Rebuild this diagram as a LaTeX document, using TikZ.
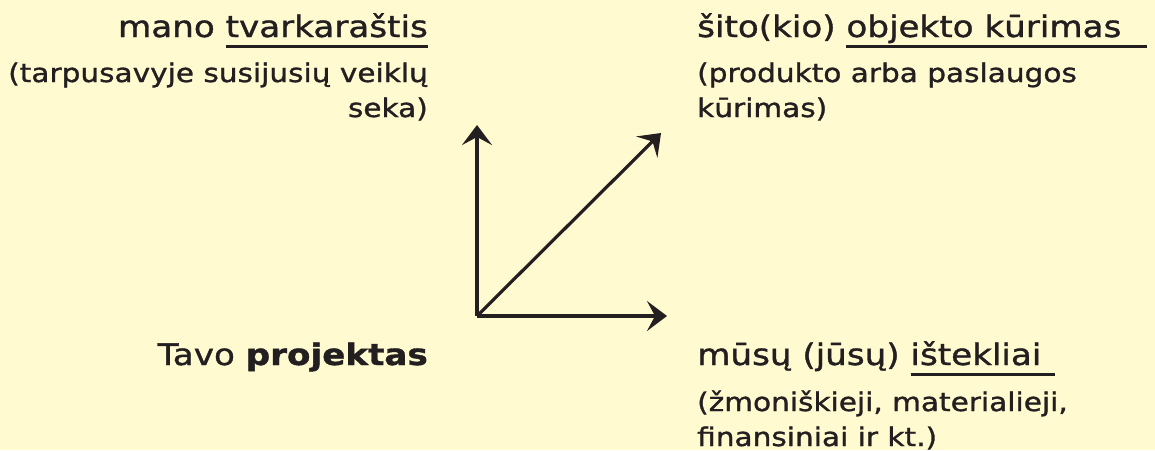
\documentclass[tikz,border=0pt]{standalone}
\usepackage{fontspec}
\setmainfont[FakeStretch=1.15,FakeBold=1.2]{DejaVu Sans}
\usetikzlibrary{arrows.meta}
\definecolor{bg}{RGB}{255,250,208}
\definecolor{ink}{RGB}{35,31,32}
\newcommand\myul[2][0pt]{\setbox0\hbox{#2\kern#1}\rlap{\color{ink}\rule[-10.5pt]{\wd0}{3pt}}\box0}
\tikzset{
  head/.style={font=\fontsize{29.7pt}{36pt}\selectfont, text=ink, inner sep=0pt},
  sub/.style={font=\fontsize{25.7pt}{31pt}\selectfont, text=ink, inner sep=0pt},
  arr/.style={draw=ink, line width=3.2pt, -{Stealth[length=20pt,width=30pt,inset=8pt]}}
}
\begin{document}
\begin{tikzpicture}[x=1pt,y=-1pt]
\fill[bg] (0,0) rectangle (1155,450);
\useasboundingbox (0,0) rectangle (1155,450);
% top left
\node[head, anchor=base east] (tl1) at (428,37) {mano \myul{tvarkaraštis}};
\node[sub, anchor=base east] (tl2) at (428,82) {(tarpusavyje susijusių veiklų};
\node[sub, anchor=base east] (tl3) at (428,117) {seka)};
% top right
\node[head, anchor=base west] (tr1) at (697,37) {šito(kio) \myul[26pt]{objekto kūrimas}};
\node[sub, anchor=base west] (tr2) at (697,82) {(produkto arba paslaugos};
\node[sub, anchor=base west] (tr3) at (697,117) {kūrimas)};
% bottom left
\node[head, anchor=base east] (bl1) at (428,365) {Tavo \textbf{projektas}};
% bottom right
\node[head, anchor=base west] (br1) at (697,365) {mūsų (jūsų) \myul[14pt]{ištekliai}};
\node[sub, anchor=base west] (br2) at (697,411) {(žmoniškieji, materialieji,};
\node[sub, anchor=base west] (br3) at (697,446) {finansiniai ir kt.)};
% axes
\coordinate (O) at (477,316);
\coordinate (Y) at (477,125);
\coordinate (X) at (667,316);
\coordinate (D) at (661,133);
\draw[arr] (O) -- (Y);
\draw[arr] (O) -- (X);
\draw[arr] (O) -- (D);
\end{tikzpicture}
\end{document}
